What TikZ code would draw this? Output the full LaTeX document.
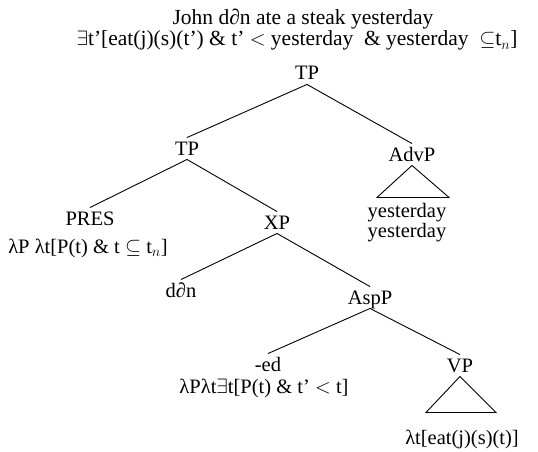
\documentclass[tikz,border=0pt]{standalone}
\usepackage{fontspec}
\setmainfont{Liberation Serif}

\begin{document}
\begin{tikzpicture}[x=1pt, y=-1pt, line width=0.9pt,
		cat/.style={draw=none,fill=none,anchor=base,inner sep=4pt,text height=13pt,text depth=0pt,font=\fontsize{20.5}{24}\selectfont},
		sem/.style={draw=none,fill=none,anchor=base,inner sep=1pt,font=\fontsize{20.5}{24}\selectfont},
		head/.style={draw=none,fill=none,anchor=base,inner sep=1pt,font=\fontsize{21.5}{25}\selectfont}]
			\useasboundingbox (0,0) rectangle (538,452);

			\node[head] (sent) at (303,25) {John d∂n ate a steak yesterday};
			\node[head] (lf)   at (297,46) {$\exists$t'[eat(j)(s)(t') \& t' $<$ yesterday\ \ \& yesterday\ \ $\subseteq$t$_n$]};

			\node[cat] (TP)    at (307,80)  {TP};
			\node[cat] (TPb)   at (187,155) {TP};
			\node[cat] (AdvP)  at (412,161) {AdvP};
			\node[cat] (PRES)  at (90,225)  {PRES};
			\node[cat] (XP)    at (277,229) {XP};
			\node[cat] (dan)   at (181,297) {d∂n};
			\node[cat] (AspP)  at (370,304) {AspP};
			\node[cat] (ed)    at (268,371) {-ed};
			\node[cat] (VP)    at (460,372) {VP};

			\node[sem] (yest)  at (407,217) {yesterday};
			\node[sem] (yestb) at (407,237) {yesterday};
			\node[sem] (presS) at (88,253)  {λP λt[P(t) \& t $\subseteq$ t$_n$]};
			\node[sem] (edS)   at (264,393) {λPλt$\exists$t[P(t) \& t' $<$ t]};
			\node[sem] (vpS)   at (462,444) {λt[eat(j)(s)(t)]};

			\draw (TP.south)   -- (TPb.north);
			\draw (TP.south)   -- (AdvP.north);
			\draw (TPb.south)  -- (PRES.north);
			\draw (TPb.south)  -- (XP.north);
			\draw (XP.south)   -- (dan.north);
			\draw (XP.south)   -- (AspP.north);
			\draw (AspP.south) -- (ed.north);
			\draw (AspP.south) -- (VP.north);

			\draw (AdvP.south) -- ++(-35,32) -- ++(72,0) -- cycle;
			\draw (VP.south)   -- ++(-34,36) -- ++(70,0) -- cycle;
		\end{tikzpicture}
\end{document}
